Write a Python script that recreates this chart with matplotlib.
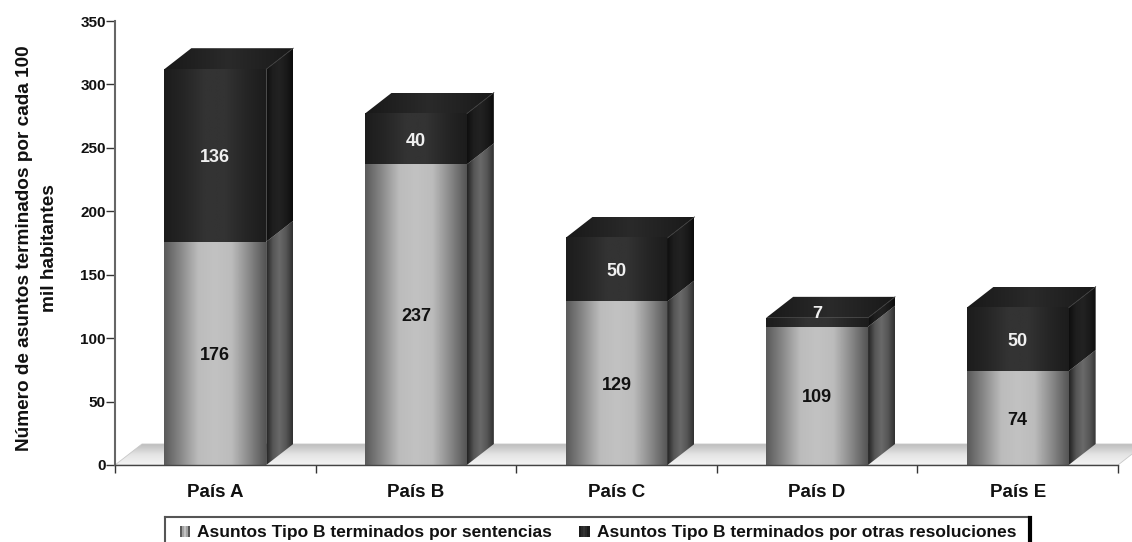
# barras_asuntos.py

import numpy as np
import matplotlib
matplotlib.use('Agg')
import matplotlib.pyplot as plt
from matplotlib.colors import LinearSegmentedColormap
from matplotlib.legend_handler import HandlerBase
from matplotlib.patches import Polygon, Rectangle

plt.rcParams['font.family'] = ['Liberation Sans', 'DejaVu Sans']
plt.rcParams['font.weight'] = 'bold'

# ── Data ──────────────────────────────────────────────────
paises = ['País A', 'País B', 'País C', 'País D', 'País E']
sentencias = [176, 237, 129, 109, 74]
otras = [136, 40, 50, 7, 50]
serie_1 = 'Asuntos Tipo B terminados por sentencias'
serie_2 = 'Asuntos Tipo B terminados por otras resoluciones'
y_ticks = [0, 50, 100, 150, 200, 250, 300, 350]

# ── Colour ramps ──────────────────────────────────────────
def ramp(*cols):
    return LinearSegmentedColormap.from_list('r', list(cols))

front_light = ramp('#5a5a5a', '#8a8a8a', '#bcbcbc', '#c2c2c2', '#bcbcbc', '#8a8a8a', '#555555')
side_light = ramp('#222222', '#555555', '#6a6a6a', '#555555', '#303030')
front_dark = ramp('#1c1c1c', '#262626', '#333333', '#333333', '#262626', '#1c1c1c')
side_dark = ramp('#0e0e0e', '#1e1e1e', '#222222', '#1a1a1a', '#0c0c0c')
top_dark = ramp('#191919', '#2a2a2a', '#191919')
floor_ramp = ramp('#f4f4f4', '#e4e4e4', '#bdbdbd')

# ── Figure ────────────────────────────────────────────────
W, H = 1132, 542
fig = plt.figure(figsize=(W / 100, H / 100), dpi=100)
ax = fig.add_axes([115 / W, 1 - 465 / H, (1118 - 115) / W, (465 - 21) / H])
ax.set_xlim(-0.5, 4.5)
ax.set_ylim(0, 350)

bar_w = 0.508
depth_x = 27 / 200.6
depth_y = 21 * 350 / 444
label_dy = -1.6


def paint(x0, x1, y0, y1, cmap, clip=None, vertical=False, z=3):
    grad = np.linspace(0, 1, 128)
    grad = grad[:, None] if vertical else grad[None, :]
    im = ax.imshow(grad, extent=[x0, x1, y0, y1], origin='lower', cmap=cmap,
                   aspect='auto', zorder=z, vmin=0, vmax=1)
    if clip is not None:
        poly = Polygon(clip, transform=ax.transData, fill=False, edgecolor='none')
        poly.set_clip_on(False)
        ax.add_patch(poly)
        im.set_clip_path(poly)
        im.set_clip_box(fig.bbox)
    else:
        im.set_clip_on(False)


def segment(xc, y0, y1, front, side, z):
    x0, x1 = xc - bar_w / 2, xc + bar_w / 2
    paint(x0, x1, y0, y1, front, z=z)
    quad = [(x1, y0), (x1 + depth_x, y0 + depth_y), (x1 + depth_x, y1 + depth_y), (x1, y1)]
    paint(x1, x1 + depth_x, y0, y1 + depth_y, side, clip=quad, z=z)


# ── Floor ─────────────────────────────────────────────────
x_end = ax.get_xlim()[1]
floor = [(-0.5, 0), (-0.5 + depth_x, depth_y), (x_end + depth_x, depth_y), (x_end, 0)]
paint(-0.5, x_end + depth_x, 0, depth_y, floor_ramp, clip=floor, vertical=True, z=1)
ax.add_patch(Polygon(floor, fill=False, edgecolor='#c8c8c8', linewidth=0.6, zorder=1, clip_on=False))

# ── Bars ──────────────────────────────────────────────────
for i, (a, b) in enumerate(zip(sentencias, otras)):
    segment(i, 0, a, front_light, side_light, 3)
    segment(i, a, a + b, front_dark, side_dark, 6)
    x0, x1 = i - bar_w / 2, i + bar_w / 2
    top = a + b
    roof = [(x0, top), (x0 + depth_x, top + depth_y), (x1 + depth_x, top + depth_y), (x1, top)]
    paint(x0, x1 + depth_x, top, top + depth_y, top_dark, clip=roof, z=5)
    ax.plot([x1, x1 + depth_x], [top, top + depth_y], color='#3c3c3c', lw=0.6, zorder=6.5,
            clip_on=False)
    ax.text(i, a / 2 + label_dy, str(a), ha='center', va='center', fontsize=13,
            color='#111111', zorder=7)
    # the thin segment has its label pushed up onto the roof, tucked behind the front face
    if b < 10:
        ax.text(i, top + 4.5 + label_dy, str(b), ha='center', va='center', fontsize=13,
                color='#f0f0f0', zorder=5.5, clip_on=False)
    else:
        ax.text(i, a + b / 2 + label_dy, str(b), ha='center', va='center', fontsize=13,
                color='#f0f0f0', zorder=7)

# ── Axes ──────────────────────────────────────────────────
ax.patch.set_visible(False)
for s in ['top', 'right']:
    ax.spines[s].set_visible(False)
ax.spines['left'].set_color('#666666')
ax.spines['left'].set_linewidth(1.5)
ax.spines['bottom'].set_color('#444444')
ax.spines['bottom'].set_linewidth(1.0)
ax.spines['bottom'].set_zorder(8)

ax.set_yticks(y_ticks)
ax.tick_params(axis='y', length=6.5, width=1, color='#333333', pad=0, labelsize=11)
ax.set_xticks(np.arange(-0.5, 5, 1))
ax.set_xticklabels([])
ax.tick_params(axis='x', which='major', length=5.8, width=1, color='#333333')
ax.set_xticks(range(len(paises)), minor=True)
ax.set_xticklabels(paises, minor=True, fontsize=13.5, color='#111111')
ax.tick_params(axis='x', which='minor', length=0, pad=13.5)
for t in ax.get_yticklabels():
    t.set_color('#111111')

fig.text(37 / W, 1 - 248 / H, 'Número de asuntos terminados por cada 100\nmil habitantes',
         rotation=90, ha='center', va='center', fontsize=13.7, color='#111111',
         linespacing=1.55, multialignment='center')


# ── Legend ────────────────────────────────────────────────
class GradHandler(HandlerBase):
    def __init__(self, cmap):
        super().__init__()
        self.cmap = cmap

    def create_artists(self, legend, orig, xd, yd, w, h, fs, trans):
        n = 5
        out = []
        for k in range(n):
            out.append(Rectangle((-xd + k * w / n, -yd), w / n, h,
                                 facecolor=self.cmap(k / (n - 1)), edgecolor='none',
                                 transform=trans))
        return out


h1 = Rectangle((0, 0), 1, 1)
h2 = Rectangle((0, 0), 1, 1)
leg = fig.legend([h1, h2], [serie_1, serie_2],
                 handler_map={h1: GradHandler(front_light), h2: GradHandler(front_dark)},
                 loc='center left', bbox_to_anchor=(180 / W, 1 - 533 / H), ncol=2,
                 frameon=False, fontsize=12.5, handlelength=0.6, handleheight=0.6,
                 handletextpad=0.4, columnspacing=1.55, borderpad=0, borderaxespad=0,
                 labelcolor='#111111')

# legend frame runs off the bottom edge of the picture
fig.add_artist(plt.Line2D([165 / W, 165 / W], [0, 1 - 517 / H], color='#555555', lw=1.5))
fig.add_artist(plt.Line2D([165 / W, 1028 / W], [1 - 517 / H, 1 - 517 / H], color='#555555', lw=1.5))
fig.add_artist(plt.Line2D([1030 / W, 1030 / W], [0, 1 - 518 / H], color='#000000', lw=3))

# ── Save ──────────────────────────────────────────────────
fig.savefig('out.png', dpi=100)
